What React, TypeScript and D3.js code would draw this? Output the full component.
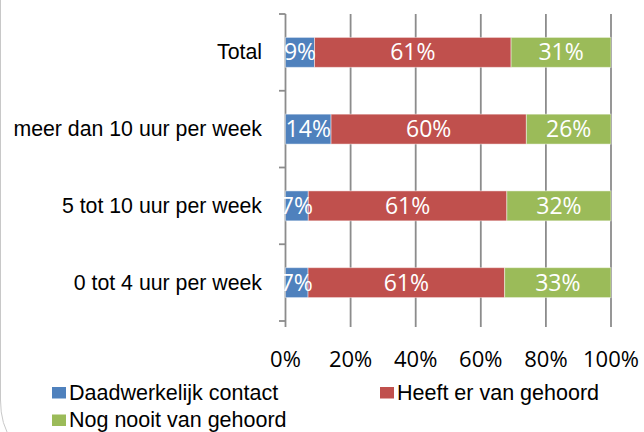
import React from "react";
import * as d3 from "d3";

const categories = ["Total", "meer dan 10 uur per week", "5 tot 10 uur per week", "0 tot 4 uur per week"];
const seriesNames = ["Daadwerkelijk contact", "Heeft er van gehoord", "Nog nooit van gehoord"];
const contact = [9, 14, 7, 7];
const gehoord = [61, 60, 61, 61];
const nooit = [31, 26, 32, 33];
const xTicks = [0, 0.2, 0.4, 0.6, 0.8, 1];
const colors = ["#4F81BD", "#C0504D", "#9BBB59"];

export default function App() {
  const W = 644, H = 432;
  const x = d3.scaleLinear().domain([0, 1]).range([285.5, 611]);
  const y = d3.scaleBand().domain(categories).range([14, 321]).paddingInner(0.61).paddingOuter(0.305);
  const rows = categories.map((c, i) => {
    const vals = [contact[i], gehoord[i], nooit[i]];
    const total = d3.sum(vals);
    let acc = 0;
    const segs = vals.map((v, k) => {
      const s = { k, v, x0: acc / total, x1: (acc + v) / total };
      acc += v;
      return s;
    });
    return { c, segs };
  });
  const bandStep = (321 - 14) / categories.length;
  const catTicks = d3.range(categories.length + 1).map((i) => 14 + i * bandStep);
  const pct = d3.format(".0%");
  return (
    <svg width={W} height={H} style={{ position: "absolute", left: 0, top: 0 }}>
      <rect x={0} y={0} width={W} height={H} fill="#fff" />
      <path d={`M0.5,0 L0.5,400 Q0.5,425 12,440`} fill="none" stroke="#c8c8c8" strokeWidth={1} />
      {xTicks.map((t) => (
        <line key={t} x1={x(t)} x2={x(t)} y1={14} y2={327} stroke="#8c8c8c" strokeWidth={1.8} />
      ))}
      {catTicks.map((t, i) => (
        <line key={i} x1={279} x2={x(0)} y1={t} y2={t} stroke="#8c8c8c" strokeWidth={1.8} />
      ))}
      {rows.map((r) => (
        <g key={r.c}>
          {r.segs.map((s) => (
            <rect key={s.k} x={x(s.x0)} y={y(r.c)!} width={x(s.x1) - x(s.x0)} height={y.bandwidth()}
              fill={colors[s.k]} stroke="rgba(255,255,255,0.45)" strokeWidth={1} />
          ))}
          {r.segs.map((s) => (
            <text key={"t" + s.k} x={(x(s.x0) + x(s.x1)) / 2} y={y(r.c)! + y.bandwidth() / 2 + 8}
              textAnchor="middle" fill="#fff" fontFamily="'Open Sans'" fontWeight={400} fontSize={23}>
              {s.v + "%"}
            </text>
          ))}
          <text x={262} y={y(r.c)! + y.bandwidth() / 2 + 7} textAnchor="end" fontFamily="'Liberation Sans', Arial"
            fontSize={21.3} fill="#000">{r.c}</text>
        </g>
      ))}
      {xTicks.map((t) => (
        <text key={"l" + t} x={x(t)} y={367} textAnchor="middle" fontFamily="'Open Sans'" fontWeight={400}
          fontSize={22} fill="#000">{pct(t)}</text>
      ))}
      {[
        { i: 0, lx: 52, ly: 387 },
        { i: 1, lx: 380, ly: 387 },
        { i: 2, lx: 52, ly: 414.5 },
      ].map((l) => (
        <g key={l.i}>
          <rect x={l.lx} y={l.ly} width={14} height={11.5} fill={colors[l.i]} />
          <text x={l.lx + 17} y={l.ly + 12.5} fontFamily="'Liberation Sans', Arial" fontSize={21.5} fill="#000">
            {seriesNames[l.i]}
          </text>
        </g>
      ))}
    </svg>
  );
}
